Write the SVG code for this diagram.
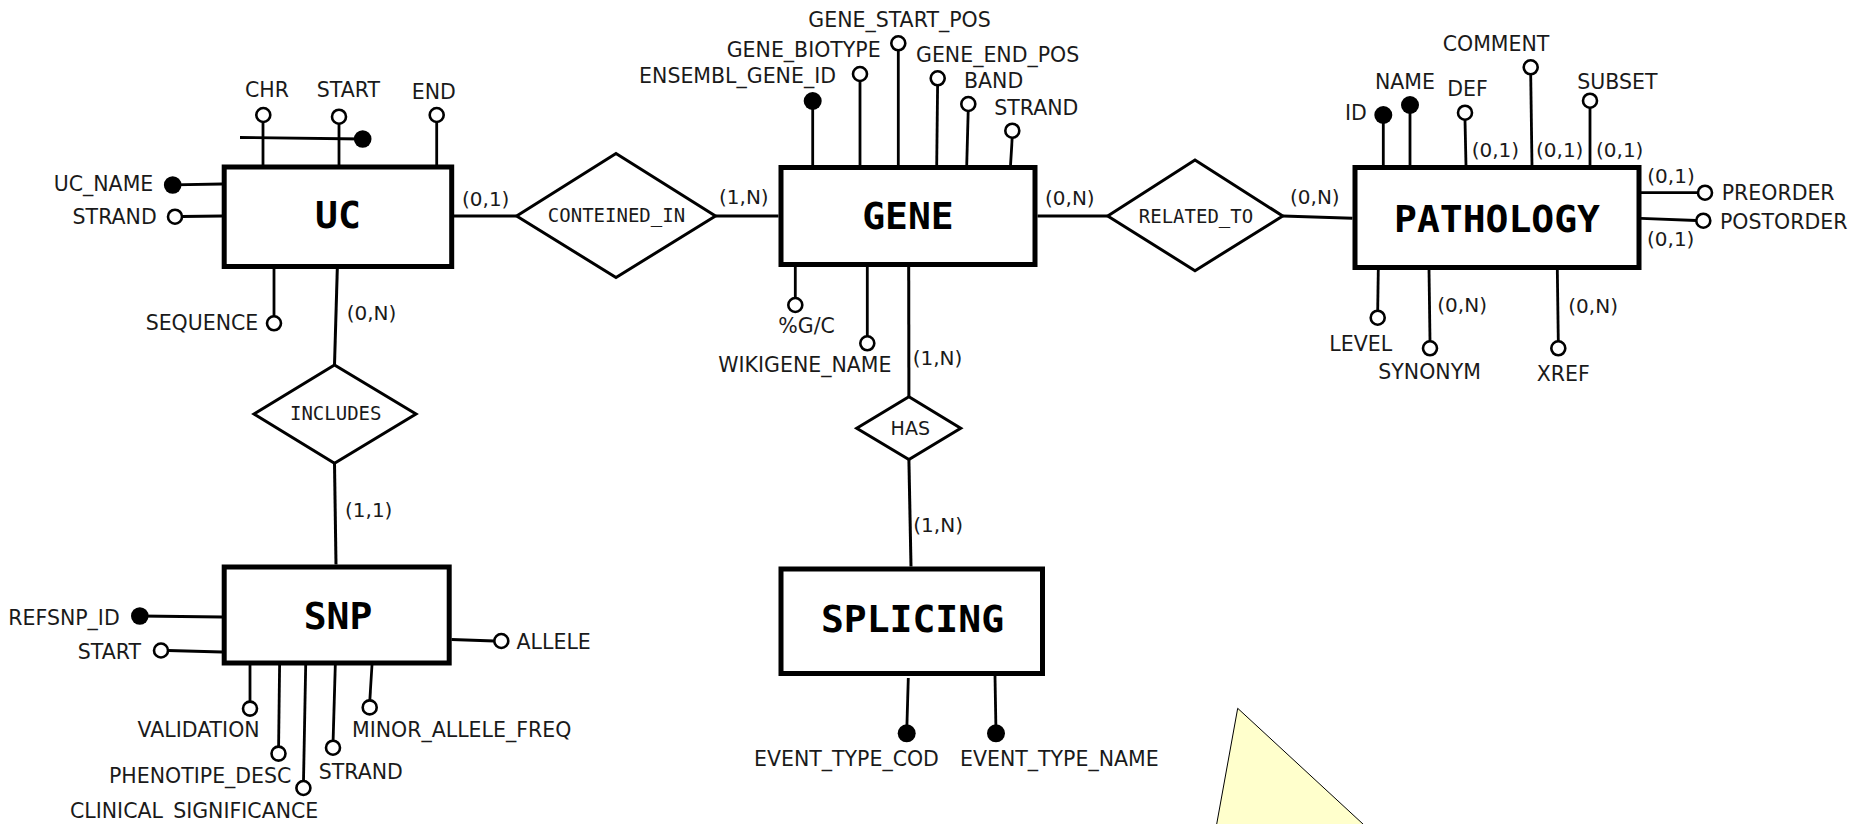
<svg xmlns="http://www.w3.org/2000/svg" width="1858" height="824" viewBox="0 0 1858 824">
<style>
.ent{fill:#fff;stroke:#000;stroke-width:5}
.rel{fill:#fff;stroke:#000;stroke-width:3;stroke-linejoin:miter}
.ln{stroke:#000;stroke-width:3;fill:none}
.at{stroke:#000;stroke-width:2.8;fill:none}
.oc{fill:#fff;stroke:#000;stroke-width:2.6}
.fc{fill:#000}
.lbl{font-family:"DejaVu Sans",Verdana,sans-serif;font-size:20.5px;fill:#1a1a1a}
.end{text-anchor:end}
.card{font-family:"DejaVu Sans",Verdana,sans-serif;font-size:20px;fill:#1a1a1a}
.ename{font-family:"DejaVu Sans Mono","Liberation Mono",monospace;font-weight:bold;font-size:38px;text-anchor:middle;fill:#000}
.rname{font-family:"DejaVu Sans Mono","Liberation Mono",monospace;font-size:19px;text-anchor:middle;fill:#1a1a1a}
.rsans{font-family:"DejaVu Sans",Verdana,sans-serif;font-size:19px;text-anchor:middle;fill:#1a1a1a}
</style>
<defs>
<clipPath id="cl"><rect x="0" y="0" width="1858" height="819.5"/></clipPath>
</defs>
<rect x="0" y="0" width="1858" height="824" fill="#fff"/>

<g id="connectors">
<line class="ln" x1="454" y1="216" x2="516.6" y2="216"/>
<line class="ln" x1="715.5" y1="216" x2="778.5" y2="216"/>
<line class="ln" x1="1037.5" y1="216" x2="1107.7" y2="216"/>
<line class="ln" x1="1282.7" y1="216" x2="1352.5" y2="218.3"/>
<line class="ln" x1="337.3" y1="269" x2="334.5" y2="365"/>
<line class="ln" x1="334.5" y1="463.3" x2="336" y2="564.5"/>
<line class="ln" x1="908.7" y1="267" x2="908.9" y2="396.7"/>
<line class="ln" x1="908.9" y1="459.5" x2="911" y2="566.5"/>
<text class="card" x="462" y="206">(0,1)</text>
<text class="card" x="719" y="204">(1,N)</text>
<text class="card" x="1045" y="205">(0,N)</text>
<text class="card" x="1290" y="204.3">(0,N)</text>
<text class="card" x="346.7" y="320">(0,N)</text>
<text class="card" x="345" y="516.7">(1,1)</text>
<text class="card" x="912.7" y="365">(1,N)</text>
<text class="card" x="913.3" y="531.7">(1,N)</text>
</g>

<g id="rel-conteined-in">
<polygon class="rel" points="516.6,216 616,153.5 715.5,216 616,277.5"/>
<text class="rname" x="616.5" y="221.7">CONTEINED_IN</text>
</g>
<g id="rel-related-to">
<polygon class="rel" points="1107.7,216 1195,160 1282.7,216 1195,270.7"/>
<text class="rname" x="1196" y="222.7">RELATED_TO</text>
</g>
<g id="rel-includes">
<polygon class="rel" points="254,414 334.5,365 416,414 334.5,463.3"/>
<text class="rname" x="335.7" y="420">INCLUDES</text>
</g>
<g id="rel-has">
<polygon class="rel" points="856.7,428.3 908.9,396.7 960.7,428.3 908.9,459.5"/>
<text class="rsans" x="910.3" y="435">HAS</text>
</g>

<!-- UC -->
<g id="uc">
<rect class="ent" x="224.2" y="167" width="227.5" height="99.5"/>
<text class="ename" x="338" y="228">UC</text>
</g>
<g id="uc-chr"><line class="at" x1="263" y1="122" x2="263" y2="165"/><circle class="oc" cx="263.3" cy="115" r="7"/><text class="lbl" x="245" y="96.7">CHR</text></g>
<g id="uc-start"><line class="at" x1="339" y1="123" x2="339" y2="165"/><circle class="oc" cx="339" cy="116.7" r="7"/><text class="lbl" x="316.7" y="96.7">START</text></g>
<g id="uc-end"><line class="at" x1="436.7" y1="122" x2="436.7" y2="165"/><circle class="oc" cx="436.7" cy="115" r="7"/><text class="lbl" x="411.7" y="99">END</text></g>
<g id="uc-key"><line class="at" x1="240" y1="137.5" x2="362.7" y2="139"/><circle class="fc" cx="362.7" cy="139" r="8.8"/></g>
<g id="uc-name"><line class="at" x1="172.7" y1="184.8" x2="222" y2="184"/><circle class="fc" cx="172.7" cy="185" r="8.8"/><text class="lbl end" x="153.3" y="191">UC_NAME</text></g>
<g id="uc-strand"><line class="at" x1="182" y1="216.5" x2="222" y2="216"/><circle class="oc" cx="175" cy="216.7" r="7"/><text class="lbl end" x="156.7" y="224.3">STRAND</text></g>
<g id="uc-sequence"><line class="at" x1="274" y1="268" x2="274" y2="316.3"/><circle class="oc" cx="274" cy="323.3" r="7"/><text class="lbl end" x="258.3" y="330">SEQUENCE</text></g>

<!-- SNP -->
<g id="snp">
<rect class="ent" x="224.2" y="567" width="225" height="96"/>
<text class="ename" x="338" y="629">SNP</text>
</g>
<g id="snp-refsnp-id"><line class="at" x1="139.8" y1="616" x2="222" y2="617"/><circle class="fc" cx="139.8" cy="616" r="8.8"/><text class="lbl end" x="119.7" y="624.5">REFSNP_ID</text></g>
<g id="snp-start"><line class="at" x1="168" y1="650.5" x2="222" y2="652"/><circle class="oc" cx="161" cy="650.5" r="7"/><text class="lbl end" x="141" y="659">START</text></g>
<g id="snp-allele"><line class="at" x1="451.5" y1="639.5" x2="494.3" y2="641"/><circle class="oc" cx="501.3" cy="641" r="7"/><text class="lbl" x="516.6" y="649">ALLELE</text></g>
<g id="snp-validation"><line class="at" x1="250" y1="665" x2="250" y2="701.6"/><circle class="oc" cx="250" cy="708.6" r="7"/><text class="lbl" x="137.5" y="737">VALIDATION</text></g>
<g id="snp-phenotipe-desc"><line class="at" x1="279.6" y1="665" x2="278.6" y2="746.6"/><circle class="oc" cx="278.5" cy="753.6" r="7"/><text class="lbl" x="109" y="783">PHENOTIPE_DESC</text></g>
<g id="snp-clinical-significance"><line class="at" x1="305.7" y1="665" x2="303.5" y2="781"/><circle class="oc" cx="303.4" cy="788" r="7"/><text class="lbl" x="70" y="817.6" clip-path="url(#cl)">CLINICAL_SIGNIFICANCE</text></g>
<g id="snp-strand"><line class="at" x1="335.3" y1="665" x2="333.1" y2="740.7"/><circle class="oc" cx="333" cy="747.7" r="7"/><text class="lbl" x="318.8" y="778.5">STRAND</text></g>
<g id="snp-minor-allele-freq"><line class="at" x1="372" y1="665" x2="369.8" y2="700.4"/><circle class="oc" cx="369.7" cy="707.4" r="7"/><text class="lbl" x="352" y="737">MINOR_ALLELE_FREQ</text></g>

<!-- GENE -->
<g id="gene">
<rect class="ent" x="781" y="167.5" width="254" height="97"/>
<text class="ename" x="908" y="229.3">GENE</text>
</g>
<g id="gene-ensembl-gene-id"><line class="at" x1="812.7" y1="101" x2="812.7" y2="166"/><circle class="fc" cx="812.7" cy="101" r="9"/><text class="lbl end" x="836" y="83.3">ENSEMBL_GENE_ID</text></g>
<g id="gene-biotype"><line class="at" x1="860" y1="81" x2="860" y2="166"/><circle class="oc" cx="860" cy="74" r="7"/><text class="lbl end" x="880.7" y="57.3">GENE_BIOTYPE</text></g>
<g id="gene-start-pos"><line class="at" x1="898.3" y1="50.3" x2="898.3" y2="166"/><circle class="oc" cx="898.3" cy="43.3" r="7"/><text class="lbl" x="808.3" y="26.7">GENE_START_POS</text></g>
<g id="gene-end-pos"><line class="at" x1="937.6" y1="85.3" x2="936.7" y2="166"/><circle class="oc" cx="937.7" cy="78.3" r="7"/><text class="lbl" x="916" y="61.7">GENE_END_POS</text></g>
<g id="gene-band"><line class="at" x1="968.2" y1="111" x2="966.7" y2="166"/><circle class="oc" cx="968.3" cy="104" r="7"/><text class="lbl" x="964" y="88.3">BAND</text></g>
<g id="gene-strand"><line class="at" x1="1012.2" y1="137.7" x2="1010.5" y2="166"/><circle class="oc" cx="1012.3" cy="130.7" r="7"/><text class="lbl" x="994.3" y="115">STRAND</text></g>
<g id="gene-gc"><line class="at" x1="795.3" y1="266" x2="795.3" y2="298"/><circle class="oc" cx="795.3" cy="305" r="7"/><text class="lbl" x="778.3" y="333.3">%G/C</text></g>
<g id="gene-wikigene-name"><line class="at" x1="867.3" y1="266" x2="867.3" y2="336.3"/><circle class="oc" cx="867.3" cy="343.3" r="7"/><text class="lbl" x="718.3" y="371.7">WIKIGENE_NAME</text></g>

<!-- SPLICING -->
<g id="splicing">
<rect class="ent" x="781" y="569" width="261.5" height="104.5"/>
<text class="ename" x="912.5" y="632.3">SPLICING</text>
</g>
<g id="splicing-event-type-cod"><line class="at" x1="908.3" y1="678" x2="906.7" y2="733"/><circle class="fc" cx="906.7" cy="733.3" r="9"/><text class="lbl" x="754" y="766">EVENT_TYPE_COD</text></g>
<g id="splicing-event-type-name"><line class="at" x1="995" y1="676" x2="996" y2="733"/><circle class="fc" cx="996" cy="733.3" r="9"/><text class="lbl" x="960" y="766">EVENT_TYPE_NAME</text></g>

<!-- PATHOLOGY -->
<g id="pathology">
<rect class="ent" x="1355" y="167.5" width="284" height="100"/>
<text class="ename" x="1497" y="231.7">PATHOLOGY</text>
</g>
<g id="path-id"><line class="at" x1="1383.3" y1="115" x2="1383.3" y2="166"/><circle class="fc" cx="1383.3" cy="115" r="9"/><text class="lbl" x="1345" y="120">ID</text></g>
<g id="path-name"><line class="at" x1="1410" y1="105" x2="1410" y2="166"/><circle class="fc" cx="1410" cy="105" r="9"/><text class="lbl" x="1375" y="89">NAME</text></g>
<g id="path-def"><line class="at" x1="1465" y1="119.7" x2="1466" y2="166"/><circle class="oc" cx="1465" cy="112.7" r="7"/><text class="lbl" x="1447.3" y="95.7">DEF</text><text class="card" x="1471.7" y="156.7">(0,1)</text></g>
<g id="path-comment"><line class="at" x1="1530.7" y1="74.3" x2="1532" y2="166"/><circle class="oc" cx="1530.7" cy="67.3" r="7"/><text class="lbl" x="1442.7" y="50.7">COMMENT</text><text class="card" x="1536" y="156.7">(0,1)</text></g>
<g id="path-subset"><line class="at" x1="1590" y1="107.7" x2="1590" y2="166"/><circle class="oc" cx="1590" cy="100.7" r="7"/><text class="lbl" x="1577.3" y="89">SUBSET</text><text class="card" x="1596" y="156.7">(0,1)</text></g>
<g id="path-preorder"><line class="at" x1="1641" y1="192.7" x2="1698" y2="192.7"/><circle class="oc" cx="1705" cy="192.7" r="7"/><text class="lbl" x="1721.7" y="200">PREORDER</text><text class="card" x="1647.3" y="182.7">(0,1)</text></g>
<g id="path-postorder"><line class="at" x1="1641" y1="218.3" x2="1696.3" y2="220.5"/><circle class="oc" cx="1703.3" cy="220.7" r="7"/><text class="lbl" x="1720" y="229.3">POSTORDER</text><text class="card" x="1647" y="246">(0,1)</text></g>
<g id="path-level"><line class="at" x1="1378.3" y1="269" x2="1377.7" y2="310.7"/><circle class="oc" cx="1377.7" cy="317.7" r="7"/><text class="lbl" x="1329.3" y="351">LEVEL</text></g>
<g id="path-synonym"><line class="at" x1="1429" y1="269" x2="1430" y2="341.3"/><circle class="oc" cx="1430" cy="348.3" r="7"/><text class="lbl" x="1378.3" y="379.3">SYNONYM</text><text class="card" x="1437.3" y="311.7">(0,N)</text></g>
<g id="path-xref"><line class="at" x1="1557.3" y1="269" x2="1558.3" y2="341.3"/><circle class="oc" cx="1558.3" cy="348.3" r="7"/><text class="lbl" x="1536.7" y="380.7">XREF</text><text class="card" x="1568.3" y="313.3">(0,N)</text></g>

<polygon points="1237.7,708.3 1380.3,840 1213.8,840" fill="#ffffcc" stroke="#000" stroke-width="1"/>
</svg>
